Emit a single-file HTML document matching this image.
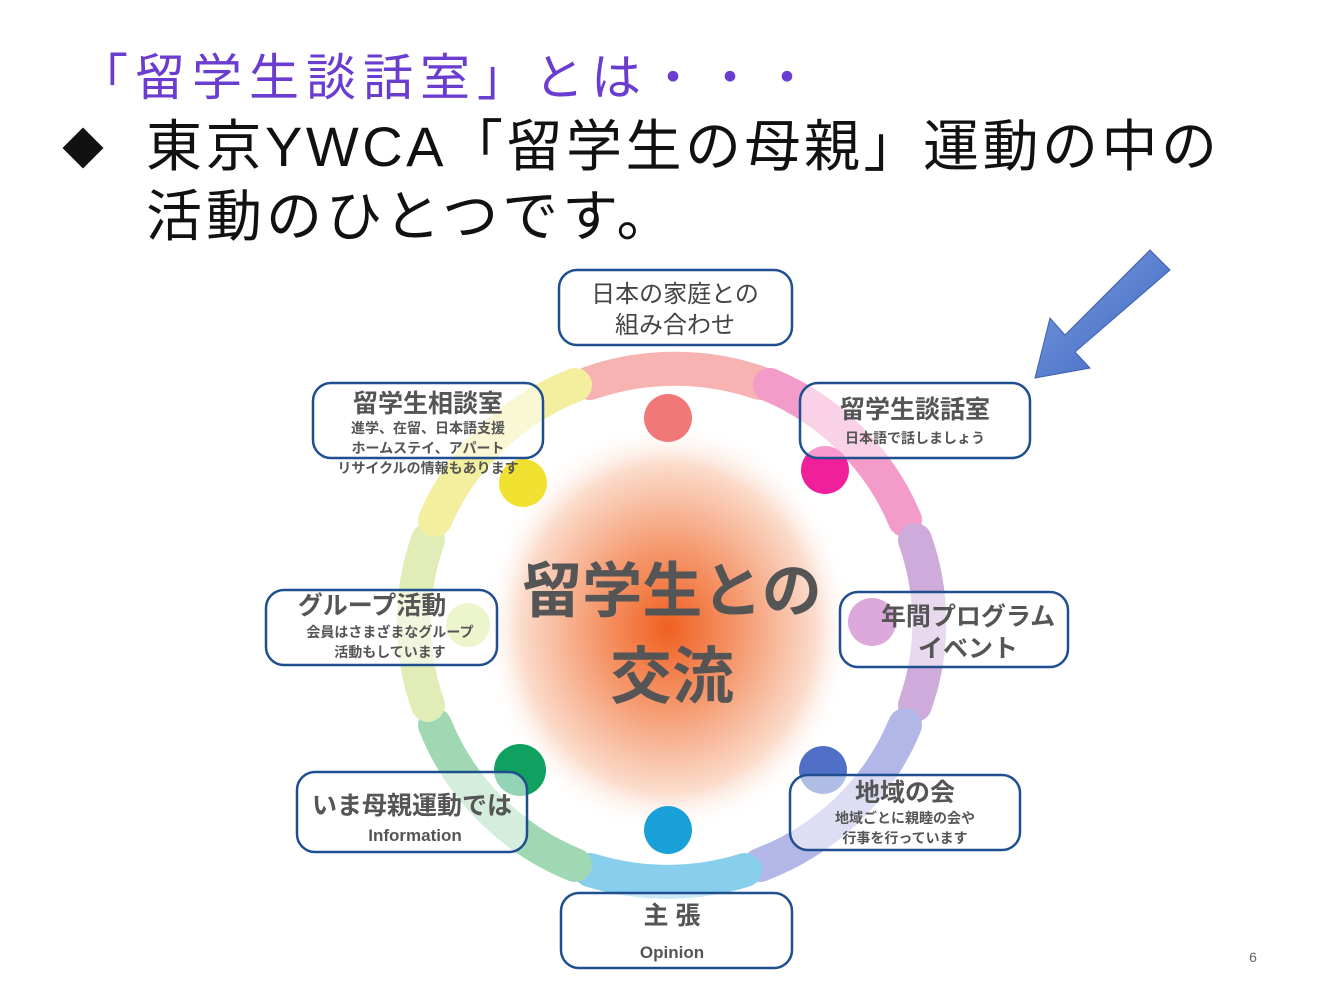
<!DOCTYPE html>
<html><head><meta charset="utf-8"><style>
body{margin:0;width:1332px;height:983px;background:#fff;overflow:hidden;font-family:"Liberation Sans","Noto Sans CJK JP",sans-serif;}
.t{position:absolute;white-space:nowrap;}
</style></head><body>
<div class="t" style="left:78px;top:38px;font-size:50px;letter-spacing:7px;color:#6a3cd0;">「留学生談話室」とは・・・</div>
<div class="t" style="left:62px;top:116px;font-size:42px;color:#111;">◆</div>
<div class="t" style="left:146px;top:102px;font-size:56px;letter-spacing:3.5px;color:#111;">東京YWCA「留学生の母親」運動の中の</div>
<div class="t" style="left:146px;top:172px;font-size:56px;letter-spacing:4px;color:#111;">活動のひとつです。</div>
<svg width="1332" height="983" style="position:absolute;left:0;top:0" xmlns="http://www.w3.org/2000/svg">
<defs>
<radialGradient id="g" cx="50%" cy="50%" r="50%">
<stop offset="0" stop-color="#f06020"/><stop offset="0.4" stop-color="#f59a70"/><stop offset="0.8" stop-color="#fbdccc"/><stop offset="1" stop-color="#fff" stop-opacity="0"/></radialGradient>
<linearGradient id="ar" x1="0" y1="0" x2="1" y2="1"><stop offset="0" stop-color="#7a9ee0"/><stop offset="1" stop-color="#3d64c0"/></linearGradient>
</defs>
<ellipse cx="668" cy="628" rx="185" ry="205" fill="url(#g)"/>
<g fill="none" stroke-width="34" stroke-linecap="round" opacity="0.75">
<path d="M590 383 A255 250 0 0 1 760 383" stroke="#f39a98"/>
<path d="M770 385 A255 250 0 0 1 905 520" stroke="#f07ab8"/>
<path d="M915 540 A255 250 0 0 1 915 705" stroke="#c090d0"/>
<path d="M905 725 A255 250 0 0 1 760 865" stroke="#9aa0e0"/>
<path d="M745 870 A255 250 0 0 1 590 870" stroke="#60c0e8"/>
<path d="M575 865 A255 250 0 0 1 435 725" stroke="#80cc9a"/>
<path d="M428 705 A255 250 0 0 1 428 540" stroke="#d8e8a0"/>
<path d="M435 520 A255 250 0 0 1 575 385" stroke="#f0ea80"/>
</g>
<g>
<circle cx="668" cy="418" r="24" fill="#f07878"/>
<circle cx="825" cy="470" r="24" fill="#f0209a"/>
<circle cx="872" cy="622" r="24" fill="#b040b0"/>
<circle cx="823" cy="770" r="24" fill="#5070c8"/>
<circle cx="668" cy="830" r="24" fill="#1aa0d8"/>
<circle cx="520" cy="770" r="26" fill="#10a060"/>
<circle cx="468" cy="625" r="22" fill="#d8e890"/>
<circle cx="523" cy="483" r="24" fill="#f0e030"/>
</g>
<path d="M1170 270 L1150 250 L1065 335 L1050 318 L1035 378 L1090 368 L1075 352 Z" fill="url(#ar)" stroke="#4060b0" stroke-width="1"/>
<g fill="rgba(255,255,255,0.55)" stroke="#1f4f8f" stroke-width="2.5">
<rect x="559" y="270" width="233" height="75" rx="18"/>
<rect x="313" y="383" width="230" height="75" rx="18"/>
<rect x="800" y="383" width="230" height="75" rx="18"/>
<rect x="266" y="590" width="231" height="75" rx="18"/>
<rect x="840" y="592" width="228" height="75" rx="18"/>
<rect x="297" y="772" width="230" height="80" rx="18"/>
<rect x="790" y="775" width="230" height="75" rx="18"/>
<rect x="561" y="893" width="231" height="75" rx="18"/>
</g>
<g font-family="Liberation Sans,Noto Sans CJK JP,sans-serif" fill="#555" text-anchor="middle" font-weight="bold">
<text x="675" y="302" font-size="24" font-weight="normal" fill="#444">日本の家庭との</text>
<text x="675" y="333" font-size="24" font-weight="normal" fill="#444">組み合わせ</text>
<text x="428" y="412" font-size="25">留学生相談室</text>
<text x="428" y="433" font-size="14">進学、在留、日本語支援</text>
<text x="428" y="453" font-size="14">ホームステイ、アパート</text>
<text x="428" y="473" font-size="14">リサイクルの情報もあります</text>
<text x="915" y="418" font-size="25">留学生談話室</text>
<text x="915" y="443" font-size="14">日本語で話しましょう</text>
<text x="372" y="614" font-size="25">グループ活動</text>
<text x="390" y="637" font-size="14">会員はさまざまなグループ</text>
<text x="390" y="657" font-size="14">活動もしています</text>
<text x="968" y="625" font-size="25">年間プログラム</text>
<text x="968" y="657" font-size="25">イベント</text>
<text x="412" y="814" font-size="25">いま母親運動では</text>
<text x="415" y="841" font-size="17">Information</text>
<text x="905" y="801" font-size="25">地域の会</text>
<text x="905" y="823" font-size="14">地域ごとに親睦の会や</text>
<text x="905" y="843" font-size="14">行事を行っています</text>
<text x="672" y="924" font-size="25">主 張</text>
<text x="672" y="958" font-size="17">Opinion</text>
<text x="672" y="612" font-size="60" fill="#555">留学生との</text>
<text x="672" y="698" font-size="62" fill="#555">交流</text>
</g>
<text x="1253" y="962" font-size="14" fill="#666" font-family="Liberation Sans,sans-serif" text-anchor="middle">6</text>
</svg>
</body></html>
